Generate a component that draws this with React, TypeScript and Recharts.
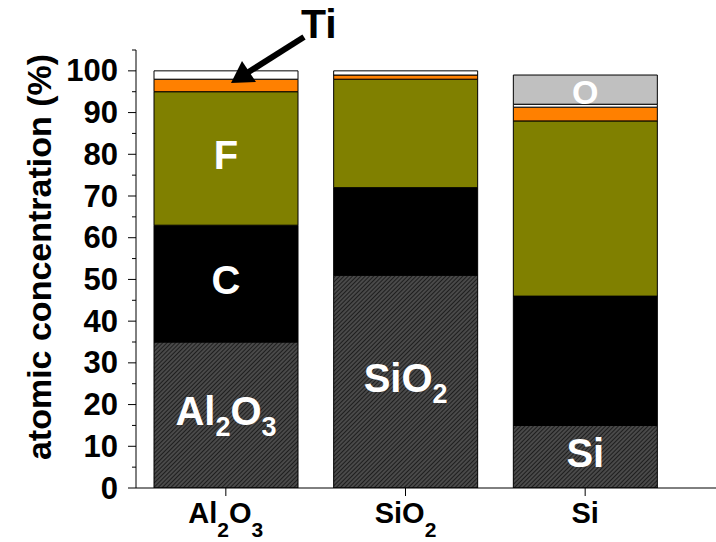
import React from 'react';
import { BarChart, Bar, XAxis, YAxis, LabelList } from 'recharts';

const categories = ['Al2O3', 'SiO2', 'Si'];
const substrate = [35, 51, 15];
const carbon = [28, 21, 31];
const fluorine = [32, 26, 42];
const titanium = [3, 1, 3.3];
const other = [2, 1, 0.7];
const oxygen = [0, 0, 7];

const substrateLabels = ['Al2O3', 'SiO2', 'Si'];
const carbonLabels = ['C', '', ''];
const fluorineLabels = ['F', '', ''];
const oxygenLabels = ['', '', 'O'];

const yTicks = [0, 5, 10, 15, 20, 25, 30, 35, 40, 45, 50, 55, 60, 65, 70, 75, 80, 85, 90, 95, 100, 105];

const FONT = '"Liberation Sans", Arial, sans-serif';
const AXIS_X = 136;

const data = categories.map((name, i) => ({
  name,
  substrate: substrate[i],
  carbon: carbon[i],
  fluorine: fluorine[i],
  titanium: titanium[i],
  other: other[i],
  oxygen: oxygen[i],
  substrateLabel: substrateLabels[i],
  carbonLabel: carbonLabels[i],
  fluorineLabel: fluorineLabels[i],
  oxygenLabel: oxygenLabels[i],
}));

// chemical formula with subscripted digits
const Formula = ({ x, y, text, size, subSize, subDy, fill }: any) => {
  const parts = String(text).match(/[A-Za-z]+|\d+/g) || [];
  let shifted = false;
  return (
    <text x={x} y={y} textAnchor="middle" fontFamily={FONT} fontWeight="bold" fontSize={size} fill={fill}>
      {parts.map((p, i) => {
        const isSub = /\d/.test(p);
        let dy = 0;
        if (isSub && !shifted) dy = subDy;
        if (!isSub && shifted) dy = -subDy;
        shifted = isSub;
        return (
          <tspan key={i} dy={dy} fontSize={isSub ? subSize : size}>
            {p}
          </tspan>
        );
      })}
    </text>
  );
};

const InBarLabel = (props: any) => {
  const { x, y, width, height, value } = props;
  if (!value) return null;
  const small = value === 'O';
  const size = small ? 34 : 40;
  const cx = x + width / 2;
  const cy = y + height / 2 + size * 0.36 + (small ? 2 : -4);
  return <Formula x={cx} y={cy} text={value} size={size} subSize={27} subDy={11} fill="#fff" />;
};

const XTick = (props: any) => {
  const { x, y, payload } = props;
  return <Formula x={x} y={y + 27} text={payload.value} size={29} subSize={21} subDy={14} fill="#000" />;
};

const YTick = (props: any) => {
  const { y, payload } = props;
  const major = payload.value % 10 === 0;
  return (
    <g>
      <line x1={AXIS_X - (major ? 8 : 4)} x2={AXIS_X} y1={y} y2={y} stroke="#000" strokeWidth={1} />
      {major && payload.value <= 100 && (
        <text x={118} y={y} textAnchor="end" dominantBaseline="central" fontFamily={FONT} fontWeight="bold" fontSize={31} fill="#000">
          {payload.value}
        </text>
      )}
    </g>
  );
};

const segStroke = { stroke: '#000', strokeWidth: 1 };

export default function App() {
  return (
    <div style={{ position: 'absolute', left: 0, top: 0, width: 716, height: 542, background: '#fff' }}>
      <BarChart width={716} height={542} data={data} margin={{ top: 50, right: 0, bottom: 0, left: 0 }} barSize={144}>
        <defs>
          <pattern id="hatch" width="3" height="3" patternUnits="userSpaceOnUse" patternTransform="rotate(45)">
            <rect width="3" height="3" fill="#4a4a4a" />
            <line x1="0.5" y1="0" x2="0.5" y2="3" stroke="#1e1e1e" strokeWidth="1" />
          </pattern>
        </defs>
        <XAxis
          dataKey="name"
          height={54}
          padding={{ left: 0, right: 41 }}
          axisLine={{ stroke: '#000' }}
          tickLine={{ stroke: '#000' }}
          tickSize={8}
          tickMargin={0}
          tick={<XTick />}
          interval={0}
        />
        <YAxis
          width={136}
          domain={[0, 105]}
          ticks={yTicks}
          interval={0}
          axisLine={{ stroke: '#000' }}
          tickLine={false}
          tick={<YTick />}
          allowDataOverflow
        />
        <Bar dataKey="substrate" stackId="a" fill="url(#hatch)" {...segStroke} isAnimationActive={false}>
          <LabelList dataKey="substrateLabel" content={<InBarLabel />} />
        </Bar>
        <Bar dataKey="carbon" stackId="a" fill="#000000" {...segStroke} isAnimationActive={false}>
          <LabelList dataKey="carbonLabel" content={<InBarLabel />} />
        </Bar>
        <Bar dataKey="fluorine" stackId="a" fill="#808000" {...segStroke} isAnimationActive={false}>
          <LabelList dataKey="fluorineLabel" content={<InBarLabel />} />
        </Bar>
        <Bar dataKey="titanium" stackId="a" fill="#FF8000" {...segStroke} isAnimationActive={false} />
        <Bar dataKey="other" stackId="a" fill="#FFFFFF" {...segStroke} isAnimationActive={false} />
        <Bar dataKey="oxygen" stackId="a" fill="#C0C0C0" {...segStroke} isAnimationActive={false}>
          <LabelList dataKey="oxygenLabel" content={<InBarLabel />} />
        </Bar>
      </BarChart>
      {/* axis title and Ti annotation drawn on top of the chart */}
      <svg width={716} height={542} style={{ position: 'absolute', left: 0, top: 0, pointerEvents: 'none' }}>
        <text
          transform="translate(39,257) rotate(-90)"
          textAnchor="middle"
          dominantBaseline="central"
          fontFamily={FONT}
          fontWeight="bold"
          fontSize={34}
          fill="#000"
        >
          atomic concentration (%)
        </text>
        <text x={301} y={38} fontFamily={FONT} fontWeight="bold" fontSize={41} fill="#000">
          Ti
        </text>
        <line x1={304} y1={37} x2={247} y2={73} stroke="#000" strokeWidth={6} />
        <polygon points="231,83 242,61 256,82" fill="#000" />
      </svg>
    </div>
  );
}
